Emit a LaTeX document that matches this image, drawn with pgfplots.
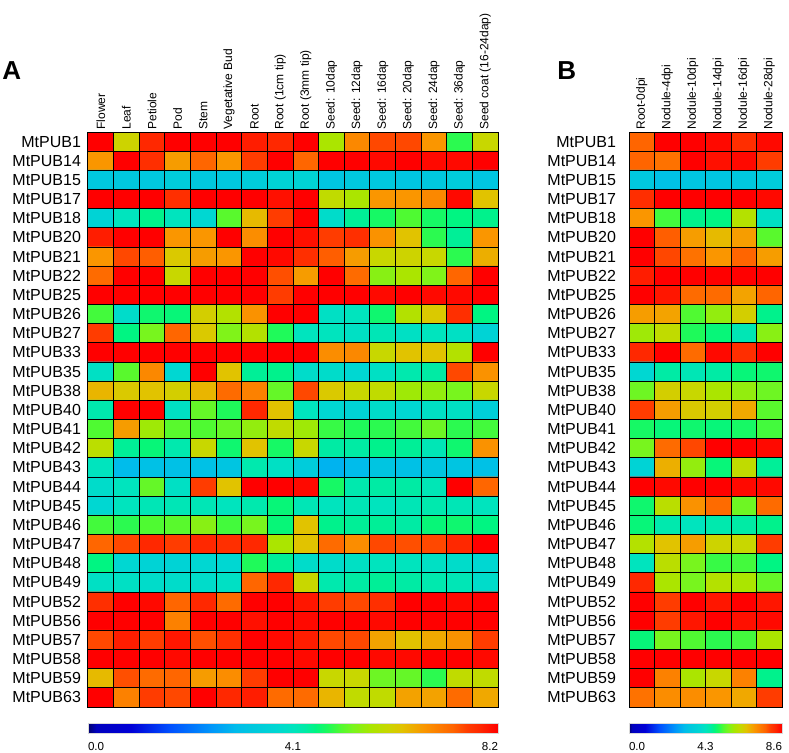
\documentclass[border=0pt]{standalone}
\usepackage{fontspec}
\setmainfont{Liberation Sans}
\usepackage{pgfplots}
\pgfplotsset{compat=1.18}

\pgfplotsset{
  colormap={expr}{
    rgb255(0pt)=(0,0,110); rgb255(20pt)=(0,0,190); rgb255(105pt)=(0,0,215);
    rgb255(200pt)=(0,80,255); rgb255(300pt)=(0,150,250); rgb255(360pt)=(0,188,235);
    rgb255(400pt)=(0,200,222); rgb255(460pt)=(0,215,210); rgb255(500pt)=(0,228,190);
    rgb255(530pt)=(0,235,165); rgb255(555pt)=(0,245,130); rgb255(585pt)=(30,250,90);
    rgb255(615pt)=(80,250,50); rgb255(645pt)=(120,245,30); rgb255(690pt)=(170,230,0);
    rgb255(730pt)=(200,215,0); rgb255(765pt)=(225,195,0); rgb255(820pt)=(250,150,0);
    rgb255(890pt)=(255,100,0); rgb255(925pt)=(255,60,0); rgb255(955pt)=(255,40,0);
    rgb255(1000pt)=(255,0,0)
  },
  heat/.style={
    scale only axis, anchor=north west, height=287.5pt,
    ymin=-0.5, ymax=29.5, y dir=reverse,
    colormap name=expr, point meta min=0,
    ytick={0,...,29},
    yticklabels={MtPUB1,MtPUB14,MtPUB15,MtPUB17,MtPUB18,MtPUB20,MtPUB21,MtPUB22,
      MtPUB25,MtPUB26,MtPUB27,MtPUB33,MtPUB35,MtPUB38,MtPUB40,MtPUB41,MtPUB42,
      MtPUB43,MtPUB44,MtPUB45,MtPUB46,MtPUB47,MtPUB48,MtPUB49,MtPUB52,MtPUB56,
      MtPUB57,MtPUB58,MtPUB59,MtPUB63},
    yticklabel style={font=\fontsize{8}{9}\selectfont},
    xticklabel pos=upper,
    xticklabel style={rotate=90, anchor=west, inner sep=1pt, font=\fontsize{6}{7}\selectfont},
    major tick length=0pt, minor tick length=0pt,
    minor ytick={-0.5,0.5,...,29.5},
    xminorgrids=true, yminorgrids=true,
    minor grid style={black, line width=0.5pt},
    axis line style={black, line width=0.5pt},
    axis on top,
    colorbar horizontal,
  },
  bar/.style={
    at={(parent axis.south west)}, anchor=north west, yshift=0.5pt,
    height=5pt, scale only axis,
    xticklabel style={font=\fontsize{5.8}{7}\selectfont, yshift=-1pt},
    major tick length=0pt,
    axis line style={draw=gray!30, line width=0.3pt},
  },
}

\begin{document}
\begin{tikzpicture}
\path[use as bounding box] (0,0) rectangle (394.5pt,-376.5pt);

\begin{axis}[heat,
  at={(44pt,-66pt)}, width=205pt,
  xmin=-0.5, xmax=15.5, point meta max=8.2,
  xtick={0,...,15},
  xticklabels={Flower,Leaf,Petiole,Pod,Stem,Vegetative Bud,Root,Root (1cm tip),
    Root (3mm tip),Seed: 10dap,Seed: 12dap,Seed: 16dap,Seed: 20dap,Seed: 24dap,
    Seed: 36dap,Seed coat (16-24dap)},
  minor xtick={-0.5,0.5,...,15.5},
  colorbar style={bar, width=205pt,
    xtick={0,4.1,8.2}, xticklabels={\rlap{0.0},4.1,\llap{8.2}}},
]
\addplot[matrix plot*, mesh/cols=16, point meta=explicit]
  table[row sep=\\, x expr={\coordindex-16*int((\coordindex+0.5)/16)},
        y expr={int((\coordindex+0.5)/16)}, meta=v]{
v\\
8.20\\ 6.04\\ 7.83\\ 8.20\\ 8.20\\ 8.20\\ 7.93\\ 7.83\\ 8.20\\ 5.67\\ 6.89\\ 7.50\\ 7.50\\ 6.72\\ 4.86\\ 5.99\\
6.72\\ 8.20\\ 7.75\\ 6.66\\ 7.28\\ 6.72\\ 7.59\\ 8.20\\ 7.28\\ 8.20\\ 8.20\\ 8.12\\ 8.20\\ 8.12\\ 8.12\\ 8.20\\
3.28\\ 3.28\\ 3.28\\ 3.40\\ 3.28\\ 3.28\\ 3.40\\ 3.65\\ 3.65\\ 3.20\\ 3.28\\ 3.28\\ 3.20\\ 3.28\\ 3.40\\ 3.20\\
8.20\\ 8.20\\ 8.20\\ 7.75\\ 8.20\\ 8.20\\ 8.20\\ 8.05\\ 8.20\\ 5.90\\ 5.67\\ 6.72\\ 6.72\\ 6.89\\ 8.12\\ 6.27\\
3.65\\ 4.10\\ 4.49\\ 4.10\\ 3.77\\ 5.10\\ 6.36\\ 7.59\\ 8.20\\ 3.90\\ 4.43\\ 4.73\\ 5.04\\ 4.73\\ 4.55\\ 4.49\\
7.93\\ 8.20\\ 8.20\\ 6.72\\ 6.72\\ 8.20\\ 6.83\\ 8.20\\ 8.05\\ 7.59\\ 7.75\\ 6.77\\ 6.27\\ 4.86\\ 4.43\\ 6.72\\
6.72\\ 7.50\\ 7.34\\ 6.19\\ 6.66\\ 6.72\\ 8.20\\ 8.12\\ 7.75\\ 7.34\\ 6.66\\ 5.99\\ 6.04\\ 5.99\\ 4.86\\ 6.48\\
7.22\\ 8.20\\ 8.20\\ 5.99\\ 8.20\\ 8.20\\ 8.20\\ 7.45\\ 6.66\\ 8.20\\ 7.22\\ 5.41\\ 5.67\\ 5.35\\ 7.28\\ 8.20\\
8.20\\ 8.20\\ 8.20\\ 8.20\\ 8.20\\ 8.20\\ 8.20\\ 7.59\\ 8.20\\ 8.20\\ 8.20\\ 8.12\\ 8.20\\ 8.12\\ 8.12\\ 8.20\\
4.98\\ 3.90\\ 4.67\\ 4.61\\ 6.11\\ 5.76\\ 6.77\\ 8.20\\ 8.20\\ 4.00\\ 4.10\\ 4.67\\ 5.76\\ 6.19\\ 7.75\\ 4.55\\
7.59\\ 4.55\\ 5.29\\ 7.28\\ 6.19\\ 5.35\\ 5.76\\ 4.80\\ 4.10\\ 4.10\\ 4.00\\ 4.18\\ 4.00\\ 4.10\\ 4.00\\ 3.65\\
8.20\\ 8.20\\ 8.20\\ 8.20\\ 8.20\\ 8.20\\ 8.20\\ 8.20\\ 8.20\\ 6.83\\ 6.89\\ 5.99\\ 6.27\\ 6.27\\ 5.76\\ 8.20\\
4.00\\ 5.10\\ 6.89\\ 3.77\\ 8.20\\ 6.27\\ 4.43\\ 4.49\\ 3.90\\ 3.90\\ 3.77\\ 4.00\\ 4.26\\ 4.35\\ 7.50\\ 6.77\\
6.41\\ 6.19\\ 6.27\\ 6.11\\ 6.41\\ 7.22\\ 6.97\\ 5.17\\ 7.50\\ 6.19\\ 5.99\\ 5.90\\ 5.58\\ 5.49\\ 5.29\\ 5.99\\
4.26\\ 8.20\\ 8.20\\ 4.00\\ 5.17\\ 4.80\\ 7.83\\ 6.27\\ 4.10\\ 3.77\\ 3.65\\ 3.90\\ 3.77\\ 4.00\\ 4.00\\ 3.53\\
5.04\\ 6.66\\ 5.58\\ 5.10\\ 5.04\\ 5.17\\ 5.49\\ 5.90\\ 5.58\\ 4.92\\ 4.80\\ 4.86\\ 4.98\\ 5.22\\ 4.86\\ 4.98\\
5.84\\ 4.43\\ 4.61\\ 4.26\\ 5.99\\ 4.67\\ 6.27\\ 4.73\\ 5.99\\ 4.35\\ 4.35\\ 4.49\\ 4.43\\ 4.18\\ 4.67\\ 6.77\\
4.10\\ 2.95\\ 3.08\\ 3.08\\ 3.08\\ 3.20\\ 4.26\\ 4.00\\ 3.40\\ 2.83\\ 2.95\\ 3.20\\ 3.08\\ 3.20\\ 3.20\\ 3.08\\
3.90\\ 4.10\\ 5.17\\ 4.00\\ 7.59\\ 6.27\\ 8.20\\ 8.20\\ 8.12\\ 4.73\\ 4.26\\ 4.35\\ 4.35\\ 4.18\\ 8.20\\ 7.28\\
3.77\\ 4.10\\ 4.18\\ 4.18\\ 4.18\\ 4.10\\ 4.26\\ 4.61\\ 4.18\\ 4.10\\ 4.18\\ 4.10\\ 4.18\\ 4.26\\ 4.18\\ 4.10\\
4.98\\ 4.86\\ 5.04\\ 5.10\\ 5.41\\ 4.98\\ 5.29\\ 4.61\\ 6.27\\ 4.49\\ 4.43\\ 4.43\\ 4.35\\ 4.61\\ 4.67\\ 4.55\\
7.28\\ 7.50\\ 7.83\\ 7.59\\ 7.83\\ 7.75\\ 7.83\\ 5.67\\ 6.27\\ 7.22\\ 6.83\\ 7.50\\ 7.45\\ 7.50\\ 7.83\\ 8.20\\
4.55\\ 3.77\\ 3.65\\ 3.65\\ 3.77\\ 3.77\\ 4.80\\ 4.43\\ 3.90\\ 3.90\\ 4.00\\ 4.10\\ 4.10\\ 4.00\\ 3.90\\ 3.77\\
4.00\\ 4.00\\ 3.90\\ 3.90\\ 3.90\\ 4.00\\ 7.28\\ 7.83\\ 5.99\\ 4.26\\ 4.35\\ 4.43\\ 4.35\\ 4.26\\ 4.18\\ 3.90\\
7.75\\ 8.20\\ 8.12\\ 7.28\\ 7.83\\ 7.22\\ 8.20\\ 8.20\\ 8.00\\ 7.59\\ 7.50\\ 7.75\\ 8.20\\ 8.20\\ 8.12\\ 8.20\\
8.20\\ 8.20\\ 8.20\\ 6.97\\ 8.20\\ 8.20\\ 8.05\\ 8.20\\ 8.12\\ 8.20\\ 8.20\\ 8.12\\ 8.20\\ 8.20\\ 8.20\\ 8.20\\
7.50\\ 7.93\\ 7.59\\ 8.00\\ 7.45\\ 7.75\\ 8.20\\ 8.12\\ 7.93\\ 7.50\\ 7.50\\ 6.60\\ 6.27\\ 6.54\\ 6.77\\ 7.59\\
8.20\\ 8.20\\ 8.20\\ 8.12\\ 8.20\\ 8.20\\ 8.20\\ 8.20\\ 8.12\\ 8.20\\ 8.20\\ 8.12\\ 8.12\\ 8.20\\ 8.20\\ 8.12\\
6.36\\ 7.45\\ 7.22\\ 7.28\\ 6.66\\ 6.83\\ 7.59\\ 8.20\\ 8.20\\ 5.99\\ 5.99\\ 5.22\\ 5.17\\ 4.86\\ 5.90\\ 5.90\\
8.20\\ 6.97\\ 7.59\\ 7.50\\ 8.20\\ 7.83\\ 7.93\\ 7.22\\ 7.22\\ 6.41\\ 5.90\\ 5.90\\ 6.60\\ 6.60\\ 7.22\\ 6.54\\
};
\end{axis}

\begin{axis}[heat,
  at={(314.5pt,-66pt)}, width=76.5pt,
  xmin=-0.5, xmax=5.5, point meta max=8.6,
  xtick={0,...,5},
  xticklabels={Root-0dpi,Nodule-4dpi,Nodule-10dpi,Nodule-14dpi,Nodule-16dpi,Nodule-28dpi},
  minor xtick={-0.5,0.5,...,5.5},
  yticklabel style={xshift=-3pt},
  colorbar style={bar, width=76.5pt,
    xtick={0,4.3,8.6}, xticklabels={\rlap{0.0},4.3,\llap{8.6}}},
]
\addplot[matrix plot*, mesh/cols=6, point meta=explicit]
  table[row sep=\\, x expr={\coordindex-6*int((\coordindex+0.5)/6)},
        y expr={int((\coordindex+0.5)/6)}, meta=v]{
v\\
7.64\\ 8.60\\ 8.60\\ 8.51\\ 8.13\\ 8.51\\
7.64\\ 7.48\\ 8.60\\ 8.45\\ 8.51\\ 7.96\\
3.44\\ 3.23\\ 3.35\\ 3.35\\ 3.44\\ 3.57\\
8.13\\ 8.60\\ 8.60\\ 8.60\\ 8.60\\ 8.51\\
7.05\\ 5.22\\ 4.71\\ 4.77\\ 6.05\\ 4.20\\
8.60\\ 7.70\\ 6.98\\ 6.67\\ 6.98\\ 5.35\\
8.60\\ 7.87\\ 7.48\\ 7.05\\ 7.64\\ 6.98\\
8.32\\ 8.60\\ 8.60\\ 8.60\\ 8.60\\ 8.60\\
8.60\\ 8.39\\ 7.57\\ 7.57\\ 6.92\\ 7.64\\
6.98\\ 6.92\\ 5.29\\ 5.76\\ 6.41\\ 4.71\\
5.85\\ 6.19\\ 5.03\\ 4.83\\ 4.39\\ 5.68\\
8.21\\ 8.60\\ 7.57\\ 8.51\\ 8.13\\ 8.60\\
3.96\\ 4.56\\ 4.39\\ 4.56\\ 4.83\\ 4.90\\
5.48\\ 6.41\\ 6.28\\ 5.95\\ 5.76\\ 5.48\\
7.96\\ 6.98\\ 6.49\\ 6.41\\ 6.86\\ 5.35\\
4.96\\ 4.83\\ 4.90\\ 4.83\\ 4.96\\ 5.22\\
5.55\\ 7.57\\ 7.87\\ 8.60\\ 8.60\\ 8.51\\
3.83\\ 6.79\\ 5.76\\ 4.83\\ 6.19\\ 4.64\\
8.60\\ 8.51\\ 8.60\\ 8.60\\ 8.51\\ 8.51\\
4.90\\ 6.12\\ 7.10\\ 7.57\\ 5.48\\ 7.57\\
4.83\\ 4.47\\ 4.30\\ 4.47\\ 4.56\\ 4.71\\
6.05\\ 6.58\\ 6.98\\ 6.34\\ 6.28\\ 7.96\\
4.30\\ 6.12\\ 5.55\\ 5.16\\ 5.22\\ 4.77\\
8.21\\ 5.95\\ 5.55\\ 6.05\\ 5.95\\ 5.42\\
8.60\\ 7.96\\ 8.60\\ 8.39\\ 8.60\\ 8.39\\
8.60\\ 7.96\\ 8.39\\ 8.60\\ 8.45\\ 8.51\\
4.83\\ 5.55\\ 5.29\\ 5.10\\ 5.22\\ 5.95\\
8.60\\ 8.60\\ 8.60\\ 8.60\\ 8.60\\ 8.60\\
8.60\\ 7.31\\ 5.95\\ 6.28\\ 7.31\\ 4.71\\
7.48\\ 7.16\\ 7.16\\ 7.05\\ 6.86\\ 7.96\\
};
\end{axis}

\node[anchor=base west, inner sep=0pt, font=\fontsize{13}{15}\selectfont\bfseries] at (1pt,-40pt) {A};
\node[anchor=base west, inner sep=0pt, font=\fontsize{13}{15}\selectfont\bfseries] at (278.5pt,-40pt) {B};
\end{tikzpicture}
\end{document}
